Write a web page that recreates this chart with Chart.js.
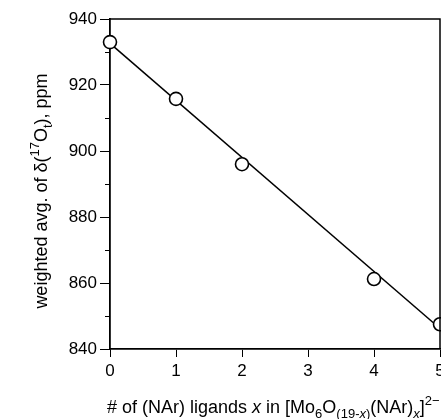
<!DOCTYPE html>
<html>
<head>
<meta charset="utf-8">
<script src="https://cdn.jsdelivr.net/npm/chart.js@4.4.1/dist/chart.umd.min.js"></script>
<style>
  html, body { margin: 0; padding: 0; background: #fff; }
  #wrap { position: relative; width: 441px; height: 419px; overflow: hidden; font-family: "Liberation Sans", Arial, sans-serif; color: #000; }
  #plot { position: absolute; left: 0; top: 0; }
  .ttl { position: absolute; font-size: 18px; line-height: 18px; white-space: nowrap; }
  .ttl sub, .ttl sup { font-size: 13px; line-height: 0; }
  .ttl sub { vertical-align: -5px; }
  .ttl sup { vertical-align: 8px; }
  #xTitle { left: 107px; top: 398px; }
  #yTitle { left: -109px; top: 182px; width: 300px; text-align: center; transform: rotate(-90deg); }
</style>
</head>
<body>
<div id="wrap">
  <canvas id="plot" width="441" height="419"></canvas>
  <div class="ttl" id="xTitle"># of (NAr) ligands <i>x</i> in [Mo<sub>6</sub>O<sub>(19-<i>x</i>)</sub>(NAr)<sub><i>x</i></sub>]<sup>2−</sup></div>
  <div class="ttl" id="yTitle">weighted avg. of δ(<sup>17</sup>O<sub>t</sub>), ppm</div>
</div>
<script>
const ligandCount = [0, 1, 2, 4, 5];
const shiftPpm = [933, 915.8, 896, 861.2, 847.5];
const fitX = [0, 5];
const fitY = [932.6, 846.2];
const xTicks = [0, 1, 2, 3, 4, 5];
const yTicks = [840, 860, 880, 900, 920, 940];
const yMinorTicks = [850, 870, 890, 910, 930];

const frame = {
    id: 'frame',
    afterDraw(chart) {
        const { ctx, chartArea: a, scales } = chart;
        ctx.save();
        ctx.strokeStyle = '#000';
        ctx.lineWidth = 1.5;
        ctx.beginPath();
        ctx.moveTo(a.left, a.top);
        ctx.lineTo(a.right, a.top);
        ctx.lineTo(a.right, a.bottom);
        ctx.stroke();
        // short minor ticks on the y axis
        ctx.lineWidth = 1;
        yMinorTicks.forEach(v => {
            const y = Math.round(scales.y.getPixelForValue(v)) + 0.5;
            ctx.beginPath();
            ctx.moveTo(a.left - 5, y);
            ctx.lineTo(a.left, y);
            ctx.stroke();
        });
        ctx.restore();
    }
};

new Chart(document.getElementById('plot'), {
    type: 'scatter',
    data: {
        datasets: [{
            data: ligandCount.map((x, i) => ({ x, y: shiftPpm[i] })),
            pointStyle: 'circle',
            pointRadius: 6.5,
            pointBorderWidth: 1.6,
            pointBorderColor: '#000',
            pointBackgroundColor: '#fff',
            showLine: false,
            clip: false,
            order: 0
        }, {
            data: fitX.map((x, i) => ({ x, y: fitY[i] })),
            showLine: true,
            borderColor: '#000',
            borderWidth: 1.5,
            pointRadius: 0,
            clip: false,
            order: 1
        }]
    },
    plugins: [frame],
    options: {
        responsive: false,
        animation: false,
        layout: { autoPadding: false, padding: { top: 19, right: 1, left: 0, bottom: 0 } },
        plugins: { legend: { display: false }, tooltip: { enabled: false } },
        scales: {
            x: {
                type: 'linear', min: 0, max: 5,
                afterFit: s => { s.height = 70; s.paddingLeft = 0; s.paddingRight = 0; },
                afterBuildTicks: s => { s.ticks = xTicks.map(v => ({ value: v })); },
                grid: { drawOnChartArea: false, tickLength: 8, color: '#000', lineWidth: 1 },
                border: { color: '#000', width: 1.8 },
                ticks: { color: '#000', padding: 4, font: { family: 'Liberation Sans', size: 17 } }
            },
            y: {
                min: 840, max: 940,
                afterFit: s => { s.width = 110; s.paddingTop = 0; s.paddingBottom = 0; },
                afterBuildTicks: s => { s.ticks = yTicks.map(v => ({ value: v })); },
                grid: { drawOnChartArea: false, tickLength: 10, color: '#000', lineWidth: 1 },
                border: { color: '#000', width: 1.8 },
                ticks: { color: '#000', padding: 3, font: { family: 'Liberation Sans', size: 17 } }
            }
        }
    }
});
</script>
</body>
</html>
